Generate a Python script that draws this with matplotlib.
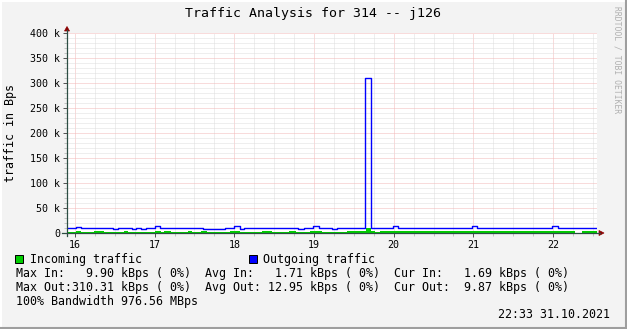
import numpy as np
import matplotlib
matplotlib.use('Agg')
import matplotlib.pyplot as plt
from matplotlib.patches import Rectangle, Polygon
from matplotlib.lines import Line2D
from matplotlib.transforms import IdentityTransform
from matplotlib.ticker import MultipleLocator

W, H = 627, 329
MONO = 'DejaVu Sans Mono'

# day of month (fractional) where each step starts, values in kBps
out_days = [15.90, 16.01, 16.07, 16.48, 16.54, 16.72, 16.77, 16.83, 16.89, 17.00, 17.07,
            17.61, 17.88, 18.00, 18.07, 18.12, 18.80, 18.87, 18.99, 19.06, 19.22, 19.29,
            19.64, 19.72, 19.99, 20.06, 20.98, 21.05, 21.99, 22.06, 22.55]
out_kbps = [9.6, 12.7, 9.6, 7.4, 9.6, 7.4, 9.6, 7.4, 9.6, 14.6, 9.6,
            7.6, 9.6, 14.6, 8.6, 9.6, 7.6, 9.6, 14.6, 9.6, 7.6, 9.6,
            310.31, 9.6, 14.6, 9.6, 14.6, 9.6, 14.6, 9.87, 9.87]

in_days = [15.90, 16.01, 16.08, 16.24, 16.36, 16.61, 16.66, 17.01, 17.08, 17.12, 17.20,
           17.42, 17.47, 17.58, 17.66, 17.94, 18.07, 18.35, 18.47, 18.69, 18.77, 18.95,
           19.10, 19.41, 19.65, 19.71, 19.77, 19.83, 22.28, 22.36, 22.55]
in_kbps = [1.6, 4.2, 1.6, 4.2, 1.6, 4.2, 1.6, 4.2, 1.6, 4.2, 1.6,
           4.2, 1.6, 4.2, 1.6, 4.2, 1.6, 4.2, 1.6, 4.2, 1.6, 4.2,
           1.6, 4.0, 9.9, 4.0, 1.6, 3.8, 0.0, 3.4, 3.4]

day_ticks = [16, 17, 18, 19, 20, 21, 22]
y_ticks = [0, 50, 100, 150, 200, 250, 300, 350, 400]
y_labels = ['0', '50 k', '100 k', '150 k', '200 k', '250 k', '300 k', '350 k', '400 k']

title = 'Traffic Analysis for 314 -- j126'
legend_lines = [
    'Max In:   9.90 kBps ( 0%)  Avg In:   1.71 kBps ( 0%)  Cur In:   1.69 kBps ( 0%)',
    'Max Out:310.31 kBps ( 0%)  Avg Out: 12.95 kBps ( 0%)  Cur Out:  9.87 kBps ( 0%)',
    '100% Bandwidth 976.56 MBps',
]
stamp = '22:33 31.10.2021'

C_IN = '#00cc00'
C_OUT = '#0000ff'
C_AXIS = '#2c4d43'
C_ARROW = '#8b0000'


def P(x, y):
    # image pixel (from top-left) -> display coords
    return (x, H - y)


def F(x, y):
    return (x / W, 1 - y / H)


fig = plt.figure(figsize=(W / 100, H / 100), dpi=100)
fig.patch.set_facecolor('#f3f3f3')

ax = fig.add_axes([67 / W, (H - 233) / H, 530 / W, 200 / H])
ax.set_facecolor('white')
for s in ax.spines.values():
    s.set_visible(False)

ax.set_xlim(15.9, 22.552)
ax.set_ylim(0, 400)

ax.xaxis.set_major_locator(MultipleLocator(1))
ax.xaxis.set_minor_locator(MultipleLocator(0.25))
ax.yaxis.set_major_locator(MultipleLocator(50))
ax.yaxis.set_minor_locator(MultipleLocator(10))
ax.set_xticks(day_ticks)
ax.set_xticklabels([str(d) for d in day_ticks])
ax.set_yticks(y_ticks)
ax.set_yticklabels(y_labels)

ax.grid(which='minor', color='#dedede', lw=0.72, linestyle=(0, (1, 1)))
ax.grid(which='major', color='#f2b8b8', lw=0.72, linestyle=(0, (1, 1)))
ax.set_axisbelow(True)

ax.tick_params(which='major', length=3, width=0.72, color='#555555', pad=2,
               labelsize=7.2, labelfontfamily=MONO)
ax.tick_params(which='minor', length=2, width=0.72, color='#c4c4c4')

# data
ax.fill_between(in_days, in_kbps, step='post', color=C_IN, lw=0, zorder=3)
ax.step(out_days, out_kbps, where='post', color=C_OUT, lw=1.0, zorder=4)

# axes lines + arrows
idt = IdentityTransform()
fig.add_artist(Line2D([P(62, 233)[0], P(600, 233)[0]], [P(62, 233)[1]] * 2,
                      color=C_AXIS, lw=0.9, transform=idt))
fig.add_artist(Line2D([P(67, 236)[0]] * 2, [P(67, 236)[1], P(67, 30)[1]],
                      color=C_AXIS, lw=0.9, transform=idt))
fig.add_artist(Polygon([P(64.5, 31), P(69.5, 31), P(67, 26.5)], closed=True,
                       fc=C_ARROW, ec=C_ARROW, lw=0.5, transform=idt))
fig.add_artist(Polygon([P(599, 230.5), P(599, 235.5), P(604, 233)], closed=True,
                       fc=C_ARROW, ec=C_ARROW, lw=0.5, transform=idt))

# frame
fig.add_artist(Line2D([0, W], [H - 0.5, H - 0.5], color='#ffffff', lw=1.5, transform=idt))
fig.add_artist(Line2D([0.5, 0.5], [0, H], color='#ffffff', lw=1.5, transform=idt))
fig.add_artist(Line2D([0, W], [1.0, 1.0], color='#9e9e9e', lw=1.5, transform=idt))
fig.add_artist(Line2D([W - 1.0, W - 1.0], [0, H], color='#9e9e9e', lw=1.5, transform=idt))

# texts
fig.text(*F(313, 14), title, family=MONO, fontsize=9.5, ha='center', va='center')
fig.text(*F(11, 133), 'traffic in Bps', family=MONO, fontsize=8.4, rotation=90,
         ha='center', va='center')
fig.text(*F(617, 60), 'RRDTOOL / TOBI OETIKER', family=MONO, fontsize=5.8,
         rotation=270, ha='center', va='center', color='#b0b0b0')

fig.add_artist(Rectangle(P(15, 263), 8, 8, fc=C_IN, ec='black', lw=0.72, transform=idt))
fig.text(*F(30, 259), 'Incoming traffic', family=MONO, fontsize=8.4, ha='left', va='center')
fig.add_artist(Rectangle(P(248.5, 263), 8, 8, fc=C_OUT, ec='black', lw=0.72, transform=idt))
fig.text(*F(263, 259), 'Outgoing traffic', family=MONO, fontsize=8.4, ha='left', va='center')

for i, line in enumerate(legend_lines):
    fig.text(*F(16, 273 + 14 * i), line, family=MONO, fontsize=8.4, ha='left', va='center')

fig.text(*F(610, 315), stamp, family=MONO, fontsize=8.4, ha='right', va='center')

fig.savefig('out.png', dpi=100, facecolor=fig.get_facecolor())
